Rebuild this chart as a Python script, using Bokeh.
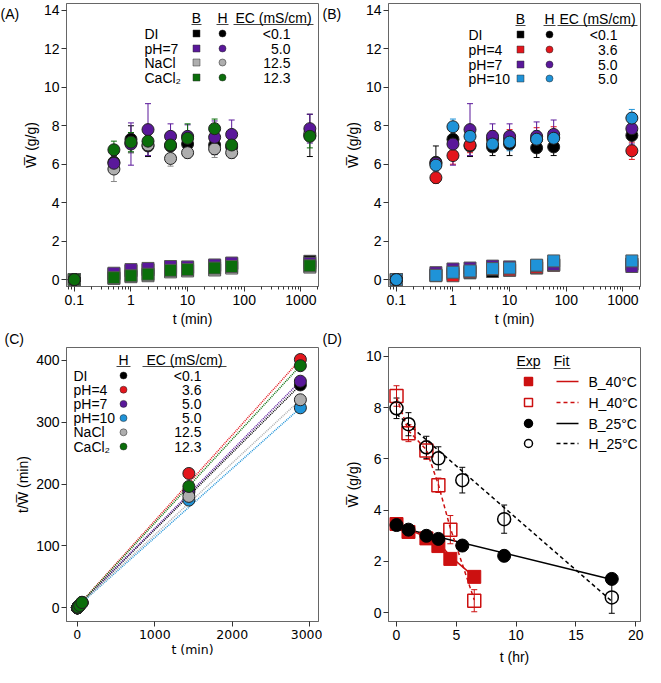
import math
from bokeh.plotting import figure
from bokeh.layouts import gridplot
from bokeh.models import (Label, Whisker, TeeHead, ColumnDataSource, FixedTicker,
                          CustomJSTickFormatter, Range1d)
from bokeh.embed import file_html
from bokeh.resources import INLINE

# ---------------- data ----------------
t_min = [0.1, 0.5, 1, 2, 5, 10, 30, 60, 1440]

# (A) hydrogel (H) circles
a_h_di    = [0, 6.10, 7.30, 6.95, 6.95, 7.05, 7.00, 6.90, 7.50]
a_h_ph7   = [0, 6.05, 7.05, 7.80, 7.45, 7.45, 7.40, 7.55, 7.85]
a_h_nacl  = [0, 5.75, 7.10, 7.00, 6.30, 6.60, 6.80, 6.60, 7.60]
a_h_cacl2 = [0, 6.75, 7.15, 7.20, 7.00, 7.35, 7.85, 7.00, 7.45]
a_e_di    = [0, 0.35, 0.70, 0.55, 0.45, 0.50, 0.50, 0.40, 1.10]
a_e_ph7   = [0, 0.30, 1.10, 1.35, 0.65, 0.60, 0.85, 0.75, 0.75]
a_e_nacl  = [0, 0.65, 0.50, 0.30, 0.40, 0.30, 0.45, 0.30, 0.40]
a_e_cacl2 = [0, 0.45, 0.50, 0.35, 0.30, 0.75, 0.50, 0.40, 0.60]
# (A) B squares
a_b_di    = [0, 0.28, 0.45, 0.50, 0.60, 0.62, 0.72, 0.82, 0.95]
a_b_ph7   = [0, 0.33, 0.52, 0.58, 0.68, 0.66, 0.76, 0.86, 0.85]
a_b_nacl  = [0, 0.06, 0.15, 0.20, 0.40, 0.45, 0.50, 0.60, 0.65]
a_b_cacl2 = [0, 0.10, 0.20, 0.28, 0.48, 0.52, 0.60, 0.68, 0.72]

# (B) hydrogel (H) circles
b_h_di   = [0, 6.10, 7.30, 6.95, 6.90, 7.05, 6.85, 6.90, 7.50]
b_h_ph4  = [0, 5.30, 6.45, 7.00, 7.30, 7.30, 7.30, 7.40, 6.70]
b_h_ph7  = [0, 6.05, 7.05, 7.80, 7.45, 7.45, 7.45, 7.55, 7.85]
b_h_ph10 = [0, 5.95, 7.95, 7.45, 7.05, 7.15, 7.30, 7.35, 8.40]
b_e_di   = [0, 0.85, 0.70, 0.55, 0.45, 0.60, 0.50, 0.45, 0.60]
b_e_ph4  = [0, 0.30, 0.45, 0.40, 0.45, 0.50, 0.60, 0.55, 0.45]
b_e_ph7  = [0, 0.30, 1.10, 1.35, 0.65, 0.65, 0.75, 0.75, 0.80]
b_e_ph10 = [0, 0.30, 0.40, 0.40, 0.30, 0.45, 0.45, 0.40, 0.45]
# (B) B squares
b_b_di   = [0, 0.20, 0.30, 0.35, 0.42, 0.48, 0.60, 0.75, 0.80]
b_b_ph4  = [0, 0.25, 0.20, 0.40, 0.55, 0.50, 0.62, 0.75, 0.80]
b_b_ph7  = [0, 0.36, 0.55, 0.60, 0.70, 0.66, 0.72, 0.78, 0.68]
b_b_ph10 = [0, 0.22, 0.38, 0.45, 0.57, 0.60, 0.75, 0.97, 0.97]

# (C) t / W  (H only)
c_t     = [0.5, 1, 2, 5, 10, 30, 60, 1440, 2880]
c_di    = [0.08, 0.14, 0.29, 0.72, 1.42, 4.3, 8.7, 190, 360]
c_ph4   = [0.09, 0.15, 0.28, 0.68, 1.37, 4.1, 8.1, 217, 401]
c_ph7   = [0.08, 0.14, 0.26, 0.67, 1.34, 4.0, 7.9, 187, 366]
c_ph10  = [0.08, 0.13, 0.27, 0.71, 1.40, 4.1, 8.2, 174, 323]
c_nacl  = [0.09, 0.14, 0.28, 0.79, 1.52, 4.4, 9.1, 180, 336]
c_cacl2 = [0.07, 0.14, 0.28, 0.71, 1.36, 3.8, 8.6, 196, 391]
c_fit_t     = [0, 2880]
c_fit_di    = [2, 360]
c_fit_ph4   = [2, 401]
c_fit_ph7   = [2, 366]
c_fit_ph10  = [2, 323]
c_fit_nacl  = [2, 336]
c_fit_cacl2 = [2, 391]

# (D) temperature series
d_t40      = [0, 1, 2.5, 3.5, 4.5, 6.5]
d_b40      = [3.46, 3.15, 2.90, 2.60, 2.10, 1.40]
d_h40      = [8.45, 7.00, 6.33, 4.97, 3.24, 0.47]
d_h40_err  = [0.40, 0.33, 0.35, 0.28, 0.55, 0.43]
d_t25      = [0, 1, 2.5, 3.5, 5.5, 9, 18]
d_b25      = [3.42, 3.24, 3.00, 2.88, 2.62, 2.22, 1.32]
d_h25      = [7.97, 7.35, 6.45, 6.02, 5.17, 3.65, 0.60]
d_h25_err  = [0.40, 0.45, 0.43, 0.45, 0.50, 0.55, 0.62]
fit_b40_t  = [0, 3.5, 4.5, 6.5]
fit_b40    = [3.45, 2.75, 2.20, 1.40]
fit_h40_t  = [0, 1, 2.5, 3.5, 4.5, 6.5]
fit_h40    = [8.40, 7.10, 6.35, 5.00, 3.30, 0.50]
fit_25_t   = [0, 18]
fit_b25    = [3.35, 1.30]
fit_h25    = [7.75, 0.45]

# legend texts
ab_labels_a = ["DI", "pH=7", "NaCl", "CaCl\u2082"]
ec_a        = ["<0.1", "5.0", "12.5", "12.3"]
ab_labels_b = ["DI", "pH=4", "pH=7", "pH=10"]
ec_b        = ["<0.1", "3.6", "5.0", "5.0"]
c_labels    = ["DI", "pH=4", "pH=7", "pH=10", "NaCl", "CaCl\u2082"]
ec_c        = ["<0.1", "3.6", "5.0", "5.0", "12.5", "12.3"]
d_labels    = ["B_40\u00b0C", "H_40\u00b0C", "B_25\u00b0C", "H_25\u00b0C"]

# ---------------- style ----------------
FONT = "Liberation Sans"
FS = "14px"
BLACK, PURPLE, GRAY, GREEN = "#000000", "#5a189a", "#aeaeae", "#0b6e0b"
RED, BLUE, DRED = "#e3161c", "#1f93d8", "#cc1010"
WBAR = "W\u0305"


def make_fig(xr, yr, fw, fh, bl, br, bt, bb, xlog=False):
    p = figure(x_range=xr, y_range=yr, x_axis_type="log" if xlog else "linear",
               frame_width=fw, frame_height=fh, min_border_left=bl, min_border_right=br,
               min_border_top=bt, min_border_bottom=bb, output_backend="svg",
               toolbar_location=None)
    p.grid.visible = False
    p.outline_line_color = "#666666"
    p.outline_line_width = 1
    p.background_fill_color = "white"
    p.border_fill_color = "white"
    for ax in p.axis:
        ax.axis_line_color = "#666666"
        ax.major_tick_line_color = "#333333"
        ax.minor_tick_line_color = "#333333"
        ax.major_tick_out = 5
        ax.major_tick_in = 0
        ax.minor_tick_out = 3
        ax.minor_tick_in = 0
        ax.major_label_text_font = FONT
        ax.major_label_text_font_size = FS
        ax.major_label_text_color = "black"
        ax.axis_label_text_font = FONT
        ax.axis_label_text_font_size = FS
        ax.axis_label_text_font_style = "normal"
        ax.axis_label_text_color = "black"
        ax.major_label_standoff = 3
        ax.axis_label_standoff = 3
    p.yaxis.major_label_standoff = 2
    p.yaxis.axis_label_standoff = 2
    p._fw, p._fh, p._xlog = fw, fh, xlog
    return p


def px(p, dx, dy):
    """frame pixel offsets (from left, from top) -> data coordinates"""
    xs, xe = p.x_range.start, p.x_range.end
    ys, ye = p.y_range.start, p.y_range.end
    fx = dx / p._fw
    if p._xlog:
        x = 10 ** (math.log10(xs) + fx * (math.log10(xe) - math.log10(xs)))
    else:
        x = xs + fx * (xe - xs)
    y = ye - dy / p._fh * (ye - ys)
    return x, y


def label(p, dx, dy, text, align="left", size=FS, font=FONT):
    x, y = px(p, dx, dy)
    p.add_layout(Label(x=x, y=y, text=text, text_font=font, text_font_size=size,
                       text_align=align, text_baseline="middle", text_color="black"))


def panel_label_left(p, dy, text):
    """panel letter in the left side panel, dy px below the frame top"""
    p.add_layout(Label(x=0, y=p._fh - dy, x_units="screen", y_units="screen", text=text,
                       text_font=FONT, text_font_size="14px", text_align="left",
                       text_baseline="middle", text_color="black"), "left")


def panel_label_above(p, dx, text):
    """panel letter in the above panel, dx px relative to the frame's left edge"""
    p.add_layout(Label(x=dx, y=1, x_units="screen", y_units="screen", text=text,
                       text_font=FONT, text_font_size="14px", text_align="left",
                       text_baseline="bottom", text_color="black"), "above")


def underline(p, x0, x1, dy):
    a = px(p, x0, dy)
    b = px(p, x1, dy)
    p.line([a[0], b[0]], [a[1], b[1]], line_color="#444444", line_width=1)


def errbars(p, x, y, e, color, head=6):
    src = ColumnDataSource(dict(x=x, u=[a + b for a, b in zip(y, e)],
                                l=[a - b for a, b in zip(y, e)]))
    w = Whisker(base="x", upper="u", lower="l", source=src, dimension="height",
                line_color=color, line_width=1,
                upper_head=TeeHead(size=head, line_color=color, line_width=1),
                lower_head=TeeHead(size=head, line_color=color, line_width=1))
    p.add_layout(w)


log_minor = [m * 10 ** e for e in range(-2, 4) for m in range(2, 10)]
fmt_plain = CustomJSTickFormatter(code="return String(tick);")

# ---------------- panels A, B ----------------
pA = make_fig(Range1d(0.0728, 2046), Range1d(-0.36, 14.36), 252, 283, 66, 4, 3, 45, xlog=True)
pB = make_fig(Range1d(0.0728, 2046), Range1d(-0.36, 14.36), 252, 283, 66, 5, 3, 45, xlog=True)

for p in (pA, pB):
    p.xaxis.ticker = FixedTicker(ticks=[0.1, 1, 10, 100, 1000], minor_ticks=log_minor)
    p.xaxis.formatter = fmt_plain
    p.yaxis.ticker = FixedTicker(ticks=[0, 2, 4, 6, 8, 10, 12, 14], minor_ticks=[])
    p.xaxis.axis_label = "t (min)"
    p.yaxis.axis_label = WBAR + " (g/g)"

sq_a = [(a_b_di, BLACK), (a_b_nacl, GRAY), (a_b_ph7, PURPLE), (a_b_cacl2, GREEN)]
ci_a = [(a_h_di, a_e_di, BLACK), (a_h_nacl, a_e_nacl, GRAY),
        (a_h_ph7, a_e_ph7, PURPLE), (a_h_cacl2, a_e_cacl2, GREEN)]
for ys, c in sq_a:
    pA.scatter(t_min, ys, marker="square", size=12, fill_color=c, line_color="#555555", line_width=1)
for ys, es, c in ci_a:
    errbars(pA, t_min, ys, es, "#888888" if c == GRAY else c)
for ys, es, c in ci_a:
    pA.scatter(t_min, ys, marker="circle", size=12, fill_color=c, line_color="#222222", line_width=1)

sq_b = [(b_b_di, BLACK), (b_b_ph4, RED), (b_b_ph7, PURPLE), (b_b_ph10, BLUE)]
ci_b = [(b_h_di, b_e_di, BLACK), (b_h_ph4, b_e_ph4, RED),
        (b_h_ph7, b_e_ph7, PURPLE), (b_h_ph10, b_e_ph10, BLUE)]
for ys, c in sq_b:
    pB.scatter(t_min, ys, marker="square", size=12, fill_color=c, line_color="#555555", line_width=1)
for ys, es, c in ci_b:
    errbars(pB, t_min, ys, es, c)
for ys, es, c in ci_b:
    pB.scatter(t_min, ys, marker="circle", size=12, fill_color=c, line_color="#222222", line_width=1)


def ab_legend(p, names, colors, ecs, lx, sx, cx, ecx, ec_hdr, rows, hy, uy):
    label(p, sx, hy, "B", "center")
    label(p, cx, hy, "H", "center")
    label(p, ec_hdr, hy, "EC (mS/cm)", "center")
    underline(p, sx - 5, sx + 5, uy)
    underline(p, cx - 6, cx + 6, uy)
    underline(p, ec_hdr - 40, min(ec_hdr + 40, p._fw - 1), uy)
    for n, c, e, ry in zip(names, colors, ecs, rows):
        label(p, lx, ry, n)
        mx, my = px(p, sx, ry)
        p.scatter([mx], [my], marker="square", size=7, fill_color=c, line_color="#333333", line_width=0.5)
        mx, my = px(p, cx, ry)
        p.scatter([mx], [my], marker="circle", size=7, fill_color=c, line_color="#222222", line_width=0.5)
        label(p, ecx, ry, e, "right")


ab_legend(pA, ab_labels_a, [BLACK, PURPLE, GRAY, GREEN], ec_a,
          78, 130, 156, 224, 207, [30, 45, 59, 74], 14, 21)
ab_legend(pB, ab_labels_b, [BLACK, RED, PURPLE, BLUE], ec_b,
          80, 132, 161, 229, 209, [31, 46, 61, 75], 15, 22)

panel_label_left(pA, 10, "(A)")
panel_label_left(pB, 10, "(B)")

# ---------------- panel C ----------------
pC = make_fig(Range1d(-140, 3114), Range1d(-22, 420.4), 252, 274, 62, 8, 0, 44)
pC.xaxis.ticker = FixedTicker(ticks=[0, 1000, 2000, 3000], minor_ticks=[])
pC.yaxis.ticker = FixedTicker(ticks=[0, 100, 200, 300, 400], minor_ticks=[])
pC.xaxis.axis_label = "t (min)"
pC.yaxis.axis_label = "t/" + WBAR + " (min)"
pC.xaxis.major_label_text_font = "DejaVu Sans"
pC.xaxis.major_label_text_font_size = "12.5px"
pC.xaxis.axis_label_text_font = "DejaVu Sans"
pC.xaxis.axis_label_text_font_size = "12.5px"
pC.xaxis.axis_label_standoff = 0

c_series = [(c_di, c_fit_di, BLACK), (c_ph4, c_fit_ph4, RED), (c_ph7, c_fit_ph7, PURPLE),
            (c_ph10, c_fit_ph10, BLUE), (c_nacl, c_fit_nacl, GRAY), (c_cacl2, c_fit_cacl2, GREEN)]
for ys, fy, c in c_series:
    pC.line(c_fit_t, fy, line_color=c, line_width=1.5, line_dash="1 1")
for ys, fy, c in c_series:
    pC.scatter(c_t, ys, marker="circle", size=12, fill_color=c, line_color="#222222", line_width=1)

label(pC, 57, 12, "H", "center")
label(pC, 118, 12, "EC (mS/cm)", "center")
underline(pC, 50, 64, 19)
underline(pC, 76, 160, 19)
for i, (n, e, (ys, fy, c)) in enumerate(zip(c_labels, ec_c, c_series)):
    ry = 28 + i * 14.2
    label(pC, 7, ry, n)
    mx, my = px(pC, 57, ry)
    pC.scatter([mx], [my], marker="circle", size=7, fill_color=c, line_color="#222222", line_width=0.5)
    label(pC, 135, ry, e, "right")
panel_label_above(pC, -62, "(C)")

# ---------------- panel D ----------------
pD = make_fig(Range1d(-0.67, 20.4), Range1d(-0.34, 10.34), 252, 274, 66, 5, 0, 44)
pD.xaxis.ticker = FixedTicker(ticks=[0, 5, 10, 15, 20], minor_ticks=[])
pD.yaxis.ticker = FixedTicker(ticks=[0, 2, 4, 6, 8, 10], minor_ticks=[])
pD.xaxis.axis_label = "t (hr)"
pD.yaxis.axis_label = WBAR + " (g/g)"
pD.xaxis.axis_label_standoff = 6

pD.line(fit_25_t, fit_b25, line_color=BLACK, line_width=1.5)
pD.line(fit_25_t, fit_h25, line_color=BLACK, line_width=1.5, line_dash="4 3")
pD.line(fit_b40_t, fit_b40, line_color=DRED, line_width=1.5)
pD.line(fit_h40_t, fit_h40, line_color=DRED, line_width=1.5, line_dash="4 3")
errbars(pD, d_t40, d_h40, d_h40_err, DRED)
errbars(pD, d_t25, d_h25, d_h25_err, BLACK)
pD.scatter(d_t40, d_b40, marker="square", size=13, fill_color=DRED, line_color=DRED)
pD.scatter(d_t40, d_h40, marker="square", size=13, fill_color=None, line_color=DRED, line_width=1.5)
pD.scatter(d_t25, d_b25, marker="circle", size=13, fill_color=BLACK, line_color=BLACK)
pD.scatter(d_t25, d_h25, marker="circle", size=13, fill_color=None, line_color=BLACK, line_width=1.5)

label(pD, 140, 13, "Exp", "center")
label(pD, 173, 13, "Fit", "center")
underline(pD, 128, 152, 21)
underline(pD, 165, 182, 21)
d_leg = [("square", DRED, DRED, None), ("square", None, DRED, "4 3"),
         ("circle", BLACK, BLACK, None), ("circle", None, BLACK, "4 3")]
for (mk, fc, lc, dash), n, ry in zip(d_leg, d_labels, [34, 55, 76, 96]):
    mx, my = px(pD, 140, ry)
    pD.scatter([mx], [my], marker=mk, size=8, fill_color=fc, line_color=lc, line_width=1.5)
    a = px(pD, 168, ry)
    b = px(pD, 190, ry)
    if dash:
        pD.line([a[0], b[0]], [a[1], b[1]], line_color=lc, line_width=1.5, line_dash=dash)
    else:
        pD.line([a[0], b[0]], [a[1], b[1]], line_color=lc, line_width=1.5)
    label(pD, 200, ry, n)
panel_label_above(pD, -66, "(D)")

grid = gridplot([[pA, pB], [pC, pD]], toolbar_location=None)
open("out.html", "w").write(file_html(grid, INLINE))
